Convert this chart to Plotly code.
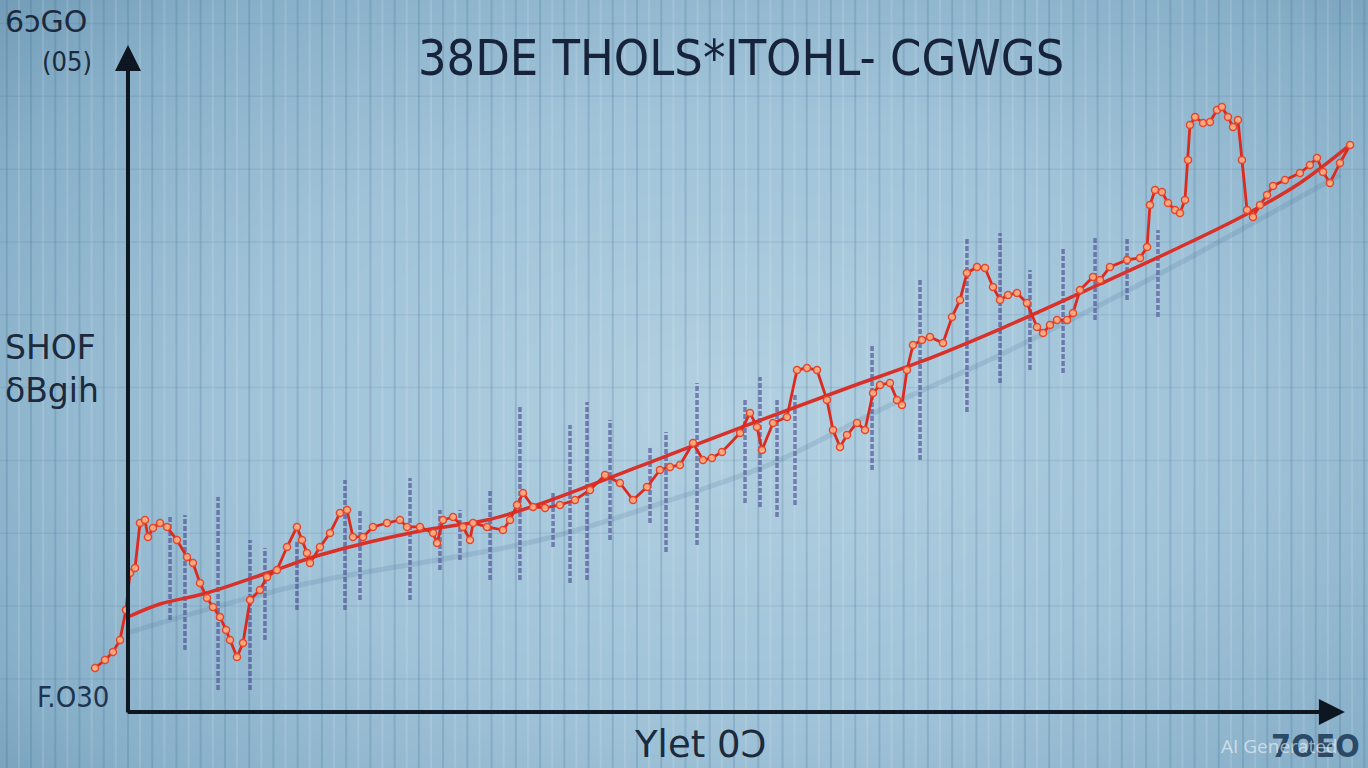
import numpy as np
import plotly.graph_objects as go

# ---------------- data ----------------
# jagged series
series_x = [-2.72, -1.90, -1.24, -0.66, -0.17, 0.17, 0.58, 0.99, 1.40, 1.65, 2.06, 2.64, 3.22, 4.04, 4.87,
            5.36, 5.94, 6.52, 7.01, 7.59, 8.09, 8.42, 8.99, 9.49, 10.07, 10.89, 11.47, 12.29, 13.12, 13.94,
            14.36, 14.77, 15.02, 15.84, 16.67, 17.49, 18.07, 18.56, 19.39, 20.21, 21.37, 22.44, 23.02, 24.09,
            25.17, 25.50, 25.99, 26.82, 27.64, 28.22, 28.47, 29.62, 30.94, 31.52, 32.10, 32.59, 33.42, 34.41,
            35.64, 36.88, 38.12, 39.36, 40.59, 41.67, 42.82, 43.89, 44.72, 45.54, 46.62, 47.44, 48.18, 49.01,
            50.50, 51.32, 51.90, 52.31, 53.22, 54.37, 55.20, 56.02, 56.85, 57.67, 58.17, 58.75, 59.32, 60.15,
            60.81, 61.47, 62.05, 62.87, 63.45, 63.86, 64.27, 64.77, 65.51, 66.17, 67.24, 67.99, 68.65, 69.22,
            70.05, 70.71, 71.37, 71.95, 72.61, 73.35, 74.17, 75.00, 75.50, 76.07, 76.65, 77.48, 77.97, 78.55,
            79.62, 80.20, 81.02, 82.43, 83.50, 84.08, 84.32, 84.74, 85.31, 85.81, 86.39, 86.80, 87.21, 87.46,
            87.62, 88.04, 88.70, 89.27, 89.85, 90.26, 90.76, 91.17, 91.58, 91.91, 92.33, 92.82, 93.40, 93.98,
            94.47, 95.46, 96.70, 97.52, 98.10, 98.60, 99.17, 100.00, 100.83]
series_y = [6.65, 7.85, 9.06, 10.88, 15.41, 21.00, 21.75, 28.55, 29.00, 26.44, 27.79, 28.55, 27.95, 25.98, 23.41,
            22.51, 19.49, 17.22, 15.86, 14.35, 12.39, 10.88, 8.31, 10.42, 16.92, 18.43, 20.39, 21.45, 24.92, 27.95,
            25.98, 24.02, 22.51, 24.92, 27.04, 30.06, 30.51, 26.44, 26.44, 27.95, 28.55, 29.00, 27.95, 27.95,
            27.04, 25.53, 29.00, 29.46, 27.95, 25.98, 28.55, 27.95, 27.49, 29.00, 31.27, 33.08, 30.97, 30.82,
            31.27, 32.02, 33.53, 35.80, 34.59, 32.02, 33.99, 36.56, 37.01, 37.31, 40.63, 38.07, 38.37, 39.27,
            42.15, 45.17, 43.05, 39.58, 43.66, 44.56, 51.66, 51.96, 51.66, 47.13, 42.60, 40.03, 41.84, 43.66,
            42.60, 48.19, 49.40, 49.70, 47.13, 46.37, 51.66, 55.44, 56.19, 56.65, 55.74, 59.67, 62.24, 66.31,
            67.22, 67.07, 64.20, 62.24, 62.99, 63.29, 61.78, 58.16, 57.25, 58.46, 59.21, 59.21, 60.27, 63.75,
            65.71, 65.26, 67.22, 68.28, 68.58, 70.24, 76.59, 78.85, 78.55, 76.89, 75.83, 75.38, 77.34, 83.38,
            88.67, 89.88, 88.97, 89.12, 90.94, 91.39, 89.88, 88.37, 89.43, 83.38, 75.83, 74.77, 76.59, 78.10,
            79.46, 80.36, 81.42, 82.63, 83.69, 81.57, 79.91, 82.93, 85.65]

# smooth trend line
trend_x = [0.0, 2.64, 6.19, 11.47, 15.84, 24.09, 29.62, 33.99, 47.19, 59.57, 65.35, 71.95, 80.20, 86.80,
           92.16, 96.70, 100.83]
trend_y = [14.35, 16.31, 17.82, 21.00, 23.72, 27.34, 29.00, 31.42, 40.63, 49.09, 52.87, 57.85, 64.65, 70.24,
           75.08, 79.91, 85.65]

# faint shadow of the trend
shadow_x = [0.17, 14.19, 33.99, 47.19, 53.22, 62.05, 71.95, 80.20, 86.80, 100.0]
shadow_y = [12.08, 19.18, 25.98, 33.53, 37.61, 45.62, 53.93, 61.48, 67.82, 81.12]

# vertical range spikes
spike_x = [3.47, 4.70, 7.43, 10.07, 11.30, 13.94, 17.90, 19.14, 23.27, 25.74, 27.39, 29.87, 32.34, 35.07,
           36.47, 37.87, 39.77, 43.07, 44.39, 46.95, 50.91, 52.15, 53.55, 55.03, 61.39, 65.35, 69.22, 71.95,
           74.42, 77.15, 79.79, 82.43, 84.98]
spike_hi = [29.76, 29.76, 32.48, 25.98, 24.77, 25.98, 35.05, 30.51, 35.35, 30.51, 30.51, 33.53, 46.37, 33.08,
            43.35, 46.83, 44.11, 39.88, 42.30, 49.70, 47.13, 50.60, 47.13, 48.19, 55.44, 65.26, 71.60, 72.36,
            66.77, 70.24, 71.75, 71.75, 72.81]
spike_lo = [13.90, 9.37, 3.32, 3.32, 10.88, 15.41, 15.41, 16.92, 16.92, 21.45, 22.96, 19.94, 19.94, 24.92,
            19.49, 19.94, 25.98, 28.55, 24.17, 25.23, 31.57, 30.97, 29.46, 31.27, 36.56, 38.07, 45.32, 49.70,
            51.66, 51.21, 59.21, 62.24, 59.67]

# texts
title_text = "38DE THOLS*ITOHL- CGWGS"
corner_top = "6ɔGO"
corner_unit = "(05)"
ylabel_1 = "SHOF"
ylabel_2 = "δBgih"
origin_label = "F.O30"
xlabel = "Ylet 0Ↄ"
x_end_label = "7OEO"
watermark = "AI Generated"

# ---------------- layout helpers ----------------
X0, X1 = -10.56, 102.31
Y0, Y1 = -8.46, 107.55

fig = go.Figure()

# background vignette
hx = np.linspace(X0, X1, 90)
hy = np.linspace(Y0, Y1, 60)
gx, gy = np.meshgrid(hx, hy)
dx = (gx - 50.0) * 12.12 / 760.0
dy = (gy - 45.0) * 6.62 / 470.0
z = np.sqrt(dx ** 2 + dy ** 2)
fig.add_trace(go.Heatmap(x=hx, y=hy, z=z, zmin=0, zmax=1.45, zsmooth="best", showscale=False,
                         hoverinfo="skip",
                         colorscale=[[0, "#b2d0e1"], [0.45, "#a0c3d8"], [0.75, "#87afc8"], [1, "#6690ae"]]))

# grid (vertical stripes and faint horizontals)
def vlines(xs):
    X, Y = [], []
    for v in xs:
        X += [v, v, None]
        Y += [Y0, Y1, None]
    return X, Y

def hlines(ys):
    X, Y = [], []
    for v in ys:
        X += [X0, X1, None]
        Y += [v, v, None]
    return X, Y

vx, vy = vlines(np.arange(-10, 103, 2.0))
fig.add_trace(go.Scatter(x=vx, y=vy, mode="lines", hoverinfo="skip",
                         line=dict(color="rgba(60,100,140,0.20)", width=2)))
vx, vy = vlines(np.arange(-9, 103, 2.0))
fig.add_trace(go.Scatter(x=vx, y=vy, mode="lines", hoverinfo="skip",
                         line=dict(color="rgba(255,255,255,0.13)", width=2)))
hxl, hyl = hlines(np.arange(5, 107, 11.0))
fig.add_trace(go.Scatter(x=hxl, y=hyl, mode="lines", hoverinfo="skip",
                         line=dict(color="rgba(60,100,140,0.12)", width=1.5)))

# spikes
sx, sy = [], []
for xv, lo, hi in zip(spike_x, spike_lo, spike_hi):
    sx += [xv, xv, None]
    sy += [lo, hi, None]
fig.add_trace(go.Scatter(x=sx, y=sy, mode="lines", hoverinfo="skip",
                         line=dict(color="rgba(72,72,145,0.62)", width=3.5, dash="5px,2px")))

# shadow
fig.add_trace(go.Scatter(x=shadow_x, y=shadow_y, mode="lines", hoverinfo="skip",
                         line=dict(color="rgba(70,110,150,0.18)", width=5, shape="spline")))

# trend
fig.add_trace(go.Scatter(x=trend_x, y=trend_y, mode="lines", hoverinfo="skip",
                         line=dict(color="#d9302a", width=3.5, shape="spline")))

# jagged series
fig.add_trace(go.Scatter(x=series_x, y=series_y, mode="lines+markers", hoverinfo="skip",
                         line=dict(color="#dc2a1e", width=2.8),
                         marker=dict(size=7, color="rgba(255,185,135,0.85)",
                                     line=dict(color="#e5452c", width=1.5))))

ink = "#0e1622"
ann = []
# axes arrows
ann.append(dict(x=0, y=100.75, ax=0, ay=-0.3, xref="x", yref="y", axref="x", ayref="y",
                showarrow=True, arrowhead=2, arrowsize=1.3, arrowwidth=4, arrowcolor=ink, text=""))
ann.append(dict(x=100.4, y=0, ax=-0.15, ay=0, xref="x", yref="y", axref="x", ayref="y",
                showarrow=True, arrowhead=2, arrowsize=1.3, arrowwidth=4, arrowcolor=ink, text=""))

def label(text, px, py, size, anchor="center", color="#1b2a3d", family="DejaVu Sans", weight=None):
    f = dict(size=size, color=color, family=family)
    if weight:
        f["weight"] = weight
    return dict(text=text, x=px / 1368, y=1 - py / 768, xref="paper", yref="paper",
                xanchor=anchor, yanchor="middle", showarrow=False, font=f)

ann.append(label(title_text, 741, 58, 50, family="DejaVu Sans Condensed, DejaVu Sans", color="#16233a"))
ann.append(label(corner_top, 3, 21, 30, anchor="left"))
ann.append(label(corner_unit, 40, 62, 27, anchor="left", family="DejaVu Sans Condensed, DejaVu Sans"))
ann.append(label(ylabel_1, 3, 347, 33, anchor="left"))
ann.append(label(ylabel_2, 3, 390, 33, anchor="left"))
ann.append(label(origin_label, 73, 697, 29, color="#1e3450", family="DejaVu Sans Condensed, DejaVu Sans"))
ann.append(label(xlabel, 700, 744, 37))
ann.append(label(x_end_label, 1315, 746, 32, color="rgba(25,55,85,0.85)", weight="bold",
                 family="DejaVu Sans Condensed, DejaVu Sans"))
ann.append(label(watermark, 1279, 746, 19, color="rgba(255,255,255,0.55)", family="Open Sans"))

fig.update_layout(
    width=1368, height=768, margin=dict(l=0, r=0, t=0, b=0, pad=0),
    paper_bgcolor="#8fb4cb", plot_bgcolor="#8fb4cb", showlegend=False,
    xaxis=dict(range=[X0, X1], visible=False, fixedrange=True),
    yaxis=dict(range=[Y0, Y1], visible=False, fixedrange=True),
    annotations=ann,
)

fig.write_html("out.html", post_script="document.body.style.margin='0';document.body.style.overflow='hidden';",
               config={"displayModeBar": False})
